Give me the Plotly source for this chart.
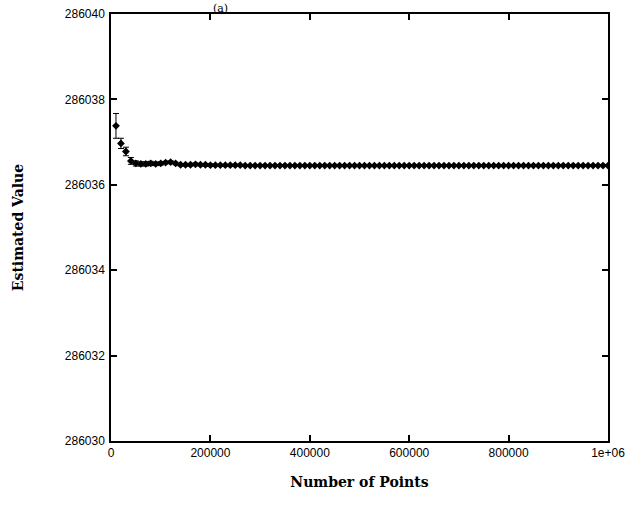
import plotly.graph_objects as go

# Data
n_points = [10000 * i for i in range(1, 101)]
estimates = [
    286037.38, 286036.97, 286036.78, 286036.56, 286036.50, 286036.49, 286036.49, 286036.50, 286036.49, 286036.50,
    286036.52, 286036.53, 286036.50, 286036.47, 286036.47, 286036.47, 286036.48, 286036.47, 286036.47, 286036.46,
    286036.46, 286036.46, 286036.46, 286036.46, 286036.46, 286036.46, 286036.45, 286036.45, 286036.45, 286036.45,
    286036.45, 286036.45, 286036.45, 286036.45, 286036.45, 286036.45, 286036.45, 286036.45, 286036.45, 286036.45,
    286036.45, 286036.45, 286036.45, 286036.45, 286036.45, 286036.45, 286036.45, 286036.45, 286036.45, 286036.45,
    286036.45, 286036.45, 286036.45, 286036.45, 286036.45, 286036.45, 286036.45, 286036.45, 286036.45, 286036.45,
    286036.45, 286036.45, 286036.45, 286036.45, 286036.45, 286036.45, 286036.45, 286036.45, 286036.45, 286036.45,
    286036.45, 286036.45, 286036.45, 286036.45, 286036.45, 286036.45, 286036.45, 286036.45, 286036.45, 286036.45,
    286036.45, 286036.45, 286036.45, 286036.45, 286036.45, 286036.45, 286036.45, 286036.45, 286036.45, 286036.45,
    286036.45, 286036.45, 286036.45, 286036.45, 286036.45, 286036.45, 286036.45, 286036.45, 286036.45, 286036.45,
]
errors = [0.29, 0.12, 0.10, 0.08, 0.06, 0.05, 0.05, 0.05, 0.04, 0.04] + [0.03] * 10 + [0.02] * 80

x_tickvals = [0, 200000, 400000, 600000, 800000, 1000000]
x_ticktext = ["0", "200000", "400000", "600000", "800000", "1e+06"]
y_tickvals = [286030, 286032, 286034, 286036, 286038, 286040]
y_ticktext = ["286030", "286032", "286034", "286036", "286038", "286040"]

fig = go.Figure()
fig.add_trace(go.Scatter(
    x=n_points, y=estimates,
    mode="markers",
    marker=dict(symbol="diamond", size=6, color="black"),
    error_y=dict(type="data", array=errors, visible=True, color="black", thickness=1, width=3),
    showlegend=False,
))

axis_common = dict(
    showline=True, linecolor="black", linewidth=1.5, mirror="ticks",
    ticks="inside", ticklen=6, tickcolor="black", tickwidth=1.5,
    showgrid=False, zeroline=False, automargin=False, ticklabeloverflow="allow",
    tickfont=dict(family="Liberation Sans", size=12, color="black"),
)

title_font = dict(family="DejaVu Serif", size=14, color="black", weight="bold")

fig.update_layout(
    width=625, height=506,
    margin=dict(l=111, r=17, t=14, b=65),
    paper_bgcolor="white", plot_bgcolor="white",
    xaxis=dict(range=[0, 1000000], tickvals=x_tickvals, ticktext=x_ticktext,
               title=dict(text="Number of Points", standoff=18, font=title_font),
               **axis_common),
    yaxis=dict(range=[286030, 286040], tickvals=y_tickvals, ticktext=y_ticktext,
               ticklabelstandoff=2,
               title=dict(text="Estimated Value", standoff=38, font=title_font),
               **axis_common),
    annotations=[dict(text="(a)", xref="paper", yref="paper", x=0.221, y=1.0328,
                      xanchor="center", yanchor="top", showarrow=False,
                      font=dict(family="DejaVu Serif", size=11, color="black"))],
)

fig.write_html("out.html", config={"displayModeBar": False},
               post_script="document.body.style.margin='0';document.body.style.padding='0';")
